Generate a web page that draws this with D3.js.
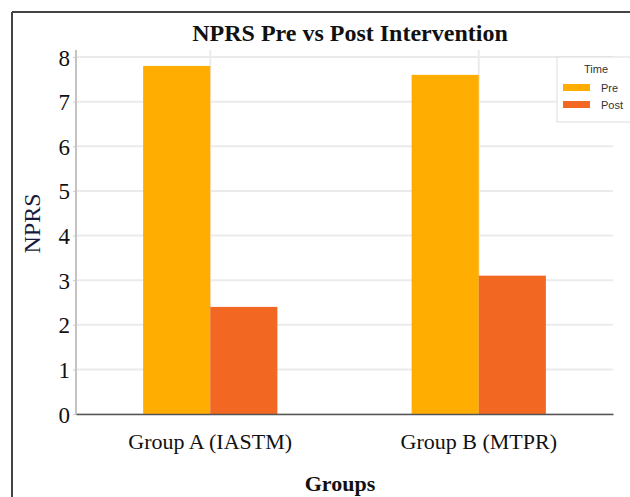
<!DOCTYPE html>
<html>
<head>
<meta charset="utf-8">
<script src="https://cdn.jsdelivr.net/npm/d3@7"></script>
<style>
  body { margin: 0; background: #fff; }
  svg { display: block; }
</style>
</head>
<body>
<div id="chart"></div>
<script>
// data
const groups = ["Group A (IASTM)", "Group B (MTPR)"];
const times = ["Pre", "Post"];
const preValues = [7.8, 7.6];
const postValues = [2.4, 3.1];
const yTicks = [0, 1, 2, 3, 4, 5, 6, 7, 8];
const colors = ["#FFAD00", "#F26722"];

const width = 630, height = 497;
const margin = { top: 57, right: 17, bottom: 83, left: 76 };
const innerW = width - margin.left - margin.right;
const innerH = height - margin.top - margin.bottom;

const rows = groups.map((g, i) => ({ group: g, values: [preValues[i], postValues[i]] }));

const svg = d3.select("#chart").append("svg")
  .attr("width", width)
  .attr("height", height);

// frame (left and top edges only visible)
svg.append("line").attr("x1", 12).attr("x2", width).attr("y1", 12).attr("y2", 12)
  .attr("stroke", "#444").attr("stroke-width", 2);
svg.append("line").attr("x1", 12).attr("x2", 12).attr("y1", 12).attr("y2", height)
  .attr("stroke", "#444").attr("stroke-width", 2);

const g = svg.append("g").attr("transform", `translate(${margin.left},${margin.top})`);

const x = d3.scaleBand().domain(groups).range([0, innerW]).padding(0);
const xInner = d3.scaleBand().domain(times).range([0, x.bandwidth()]).paddingInner(0).paddingOuter(1);
const y = d3.scaleLinear().domain([0, 8]).range([innerH, 0]);
const color = d3.scaleOrdinal().domain(times).range(colors);

// grid
g.append("g").selectAll("line").data(yTicks).join("line")
  .attr("x1", 0).attr("x2", innerW)
  .attr("y1", d => y(d)).attr("y2", d => y(d))
  .attr("stroke", "#ebebeb").attr("stroke-width", 2);
g.append("g").selectAll("line").data(groups).join("line")
  .attr("x1", d => x(d) + x.bandwidth() / 2).attr("x2", d => x(d) + x.bandwidth() / 2)
  .attr("y1", -7).attr("y2", innerH)
  .attr("stroke", "#ebebeb").attr("stroke-width", 2);

// bars
const grp = g.append("g").selectAll("g").data(rows).join("g")
  .attr("transform", d => `translate(${x(d.group)},0)`);
grp.selectAll("rect").data(d => d.values.map((v, i) => ({ key: times[i], value: v })))
  .join("rect")
  .attr("x", d => xInner(d.key))
  .attr("width", xInner.bandwidth())
  .attr("y", d => y(d.value))
  .attr("height", d => innerH - y(d.value))
  .attr("fill", d => color(d.key));

// y axis
const yAxis = g.append("g")
  .call(d3.axisLeft(y).tickValues(yTicks).tickFormat(d3.format("d")).tickSize(3).tickPadding(3));
yAxis.select(".domain").remove();
yAxis.selectAll(".tick line").attr("stroke", "#ccc");
yAxis.selectAll("text")
  .attr("font-family", "Liberation Serif, serif").attr("font-size", 23).attr("fill", "#111")
  .attr("dy", "0.35em");
g.append("line").attr("x1", 0).attr("x2", 0).attr("y1", -7).attr("y2", innerH)
  .attr("stroke", "#c4c4c4").attr("stroke-width", 2);

// x axis
const xAxis = g.append("g").attr("transform", `translate(0,${innerH})`)
  .call(d3.axisBottom(x).tickSize(0).tickPadding(19));
xAxis.select(".domain").attr("stroke", "#555").attr("stroke-width", 1.5);
xAxis.selectAll("text")
  .attr("font-family", "Liberation Serif, serif").attr("font-size", 22).attr("fill", "#111");

// title and axis labels
svg.append("text")
  .attr("x", 350).attr("y", 41)
  .attr("text-anchor", "middle")
  .attr("font-family", "Liberation Serif, serif").attr("font-weight", "bold").attr("font-size", 24)
  .attr("fill", "#111")
  .text("NPRS Pre vs Post Intervention");

svg.append("text")
  .attr("transform", `translate(40,${margin.top + innerH / 2 - 12}) rotate(-90)`)
  .attr("text-anchor", "middle")
  .attr("font-family", "Liberation Serif, serif").attr("font-size", 24)
  .attr("fill", "#1a1a3a")
  .text("NPRS");

svg.append("text")
  .attr("x", 340).attr("y", 491)
  .attr("text-anchor", "middle")
  .attr("font-family", "Liberation Serif, serif").attr("font-weight", "bold").attr("font-size", 22)
  .attr("fill", "#111")
  .text("Groups");

// legend
const lg = svg.append("g").attr("transform", "translate(557,57)");
lg.append("rect").attr("x", 0).attr("y", 0).attr("width", 80).attr("height", 65)
  .attr("fill", "#fff").attr("stroke", "#ddd");
lg.append("text").attr("x", 27).attr("y", 16)
  .attr("font-family", "Liberation Sans, Arial, sans-serif").attr("font-size", 11).attr("fill", "#333")
  .text("Time");
const items = lg.selectAll("g.item").data(times).join("g")
  .attr("class", "item")
  .attr("transform", (d, i) => `translate(0,${27 + i * 17})`);
items.append("rect").attr("x", 6).attr("y", 0).attr("width", 27).attr("height", 7)
  .attr("fill", d => color(d));
items.append("text").attr("x", 44).attr("y", 8)
  .attr("font-family", "Liberation Sans, Arial, sans-serif").attr("font-size", 11).attr("fill", "#333")
  .text(d => d);
</script>
</body>
</html>
